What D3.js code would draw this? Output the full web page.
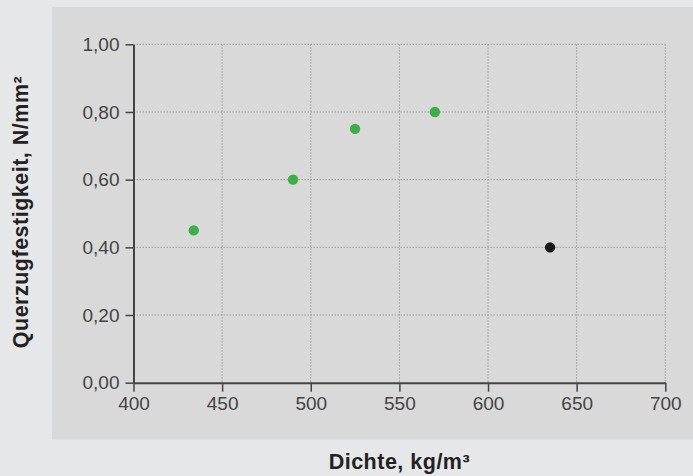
<!DOCTYPE html>
<html><head><meta charset="utf-8">
<script src="https://cdn.jsdelivr.net/npm/d3@7"></script>
<style>
html,body{margin:0;padding:0;background:#e6e7e8;}
svg{display:block;font-family:"Liberation Sans",Arial,Helvetica,sans-serif;}
</style></head>
<body>
<script>
const xTicks = [400,450,500,550,600,650,700];
const yTicks = [0,0.2,0.4,0.6,0.8,1.0];
const density = [434,490,525,570,635];
const strength = [0.45,0.60,0.75,0.80,0.40];
const pointColor = ["green","green","green","green","black"];

const W=693,H=476;
const svg=d3.select("body").append("svg").attr("width",W).attr("height",H);
svg.append("rect").attr("width",W).attr("height",H).attr("fill","#e6e7e8");
svg.append("rect").attr("x",52).attr("y",7).attr("width",W-52).attr("height",432.5).attr("fill","#d9d9da");

const x=d3.scaleLinear().domain([400,700]).range([133.5,665.3]);
const y=d3.scaleLinear().domain([0,1]).range([382.7,44.3]);

// grid
const g=svg.append("g");
g.selectAll(".gx").data(xTicks.slice(1)).enter().append("line")
 .attr("x1",d=>x(d)).attr("x2",d=>x(d)).attr("y1",y(1)).attr("y2",y(0))
 .attr("stroke","#9a9a9a").attr("stroke-width",1).attr("stroke-dasharray","1.5,1.5");
g.selectAll(".gy").data(yTicks.slice(1)).enter().append("line")
 .attr("x1",x(400)).attr("x2",x(700)).attr("y1",d=>y(d)).attr("y2",d=>y(d))
 .attr("stroke","#9a9a9a").attr("stroke-width",1).attr("stroke-dasharray","1.5,1.5");

const fmt=d=>d3.format(".2f")(d).replace(".",",");
const xa=svg.append("g").attr("transform",`translate(0,${y(0)})`)
 .call(d3.axisBottom(x).tickValues(xTicks).tickSize(9).tickPadding(5).tickSizeOuter(0));
const ya=svg.append("g").attr("transform",`translate(${x(400)},0)`)
 .call(d3.axisLeft(y).tickValues(yTicks).tickFormat(fmt).tickSize(8).tickPadding(6).tickSizeOuter(0));
[xa,ya].forEach(a=>{
 a.select(".domain").attr("stroke","#444").attr("stroke-width",2);
 a.selectAll(".tick line").attr("stroke","#444").attr("stroke-width",1.5);
 a.selectAll(".tick text").attr("fill","#444").style("font-size","19px").style("font-family","Liberation Sans, Arial, sans-serif");
});

const colors={green:"#3eae47",black:"#1a1a1a"};
svg.selectAll(".pt").data(density).enter().append("circle")
 .attr("cx",d=>x(d)).attr("cy",(d,i)=>y(strength[i])).attr("r",5.2)
 .attr("fill",(d,i)=>colors[pointColor[i]]);

svg.append("text").attr("x",(x(400)+x(700))/2).attr("y",469).attr("text-anchor","middle")
 .attr("fill","#222").style("font-size","21.5px").style("font-weight","bold").style("letter-spacing","0.5px").text("Dichte, kg/m³");
svg.append("text").attr("transform","translate(28,212) rotate(-90)").attr("text-anchor","middle")
 .attr("fill","#222").style("font-size","21.5px").style("font-weight","bold").style("letter-spacing","0.5px").text("Querzugfestigkeit, N/mm²");
</script>
</body></html>
